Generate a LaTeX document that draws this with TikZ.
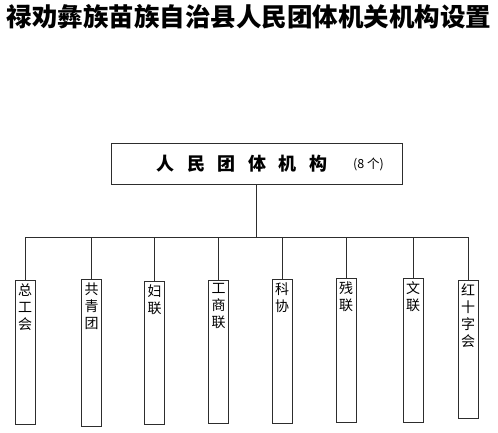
\documentclass[tikz,border=0pt]{standalone}
\usepackage{fontspec}
\setmainfont{Noto Sans CJK SC}
\usetikzlibrary{positioning}
\definecolor{inkgray}{RGB}{45,45,45}

\begin{document}
\begin{tikzpicture}[x=1pt, y=-1pt,
    every node/.style={inner sep=0pt},
    orgbox/.style={draw=inkgray, line width=0.8pt},
    unitbox/.style={draw=inkgray, line width=0.8pt, inner sep=3pt, anchor=north,
                    font=\fontsize{14}{17}\selectfont},
    link/.style={inkgray, line width=0.8pt}]

    \useasboundingbox (0,0) rectangle (498,432);

    % Title
    \node (title) at (249,16.5)
        {\fontsize{25.5}{29}\selectfont\bfseries 禄劝彝族苗族自治县人民团体机关机构设置};

    % Top box
    \node[orgbox, minimum width=291pt, minimum height=41pt] (main) at (256.5,163.5) {};
    \node (mainname) at (242,163.5)
        {\fontsize{18}{20}\selectfont\bfseries 人\kern12.6pt民\kern12.6pt团\kern12.6pt体\kern12.6pt机\kern12.6pt构};
    \node (maincount) at (368.5,164) {\fontsize{12.5}{14}\selectfont (8\kern3pt 个)};

    % Units
    \foreach \n/\x/\y/\h/\t in {1/25/280/138/{总\\工\\会}, 2/91.5/279/141/{共\\青\\团},
                               3/154.5/281/137/{妇\\联}, 4/218.5/280/137/{工\\商\\联},
                               5/282/279/138/{科\\协}, 6/346/278/138/{残\\联},
                               7/413/278/138/{文\\联}, 8/468/280/132/{红\\十\\字\\会}} {
        \node[unitbox] (c\n) at (\x,\y) {\parbox[t][\h pt][t]{14pt}{\centering \t}};
    }

    % Connectors
    \coordinate (bus) at (0,237);
    \draw[link] (main.south) -- (main.south |- bus);
    \draw[link] (c1.north |- bus) -- (c8.north |- bus);
    \foreach \n in {1,...,8} {
        \draw[link] (c\n.north) -- (c\n.north |- bus);
    }

\end{tikzpicture}
\end{document}
